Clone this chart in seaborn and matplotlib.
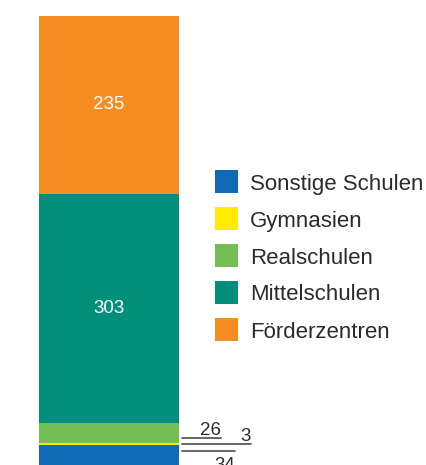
import matplotlib
matplotlib.use("Agg")
import matplotlib.pyplot as plt
from matplotlib.patches import Rectangle
from matplotlib.lines import Line2D
import seaborn as sns

categories = ["Sonstige Schulen", "Gymnasien", "Realschulen", "Mittelschulen", "Förderzentren"]
values = [34, 3, 26, 303, 235]
colors = ["#0F69B4", "#FFEC00", "#74BE55", "#008F7B", "#F68D22"]

sns.set_theme(style="white")
plt.rcParams["font.family"] = ["Liberation Sans", "DejaVu Sans"]

W, H = 427, 465
fig = plt.figure(figsize=(W / 100, H / 100), dpi=100)


def fx(px):
    return px / W


def fy(py):
    return 1 - py / H


# bar occupies x 39..179 px, value 0 at y=471 px, total at y=16 px
total = sum(values)
ax = fig.add_axes([fx(39), fy(471), 140 / W, (471 - 16) / H])

bottom = 0
for cat, v, c in zip(categories, values, colors):
    sns.barplot(x=[0], y=[v], bottom=bottom, color=c, saturation=1,
                width=0.8, linewidth=0, edgecolor="none", ax=ax)
    bottom += v

ax.set_xlim(-0.4, 0.4)
ax.set_ylim(0, total)
ax.axis("off")

# values inside the two large segments
cum = 0
for v in values:
    if v > 100:
        ax.text(0, cum + v / 2, str(v), ha="center", va="center",
                color="white", fontsize=13.5)
    cum += v

# leader lines and labels for the thin segments
lc = "#5a5a5a"
tc = "#2b2b2b"
for (x0, x1, y) in [(182, 221, 437.5), (182, 251, 444), (182, 235, 451)]:
    fig.add_artist(Line2D([fx(x0), fx(x1)], [fy(y), fy(y)], color=lc,
                          linewidth=1.3, transform=fig.transFigure))
fig.text(fx(221), fy(434.5), str(values[2]), ha="right", va="baseline",
         color=tc, fontsize=13.5)
fig.text(fx(251), fy(441), str(values[1]), ha="right", va="baseline",
         color=tc, fontsize=13.5)
fig.text(fx(235), fy(469.5), str(values[0]), ha="right", va="baseline",
         color=tc, fontsize=13.5)

# legend
for i, (cat, c) in enumerate(zip(categories, colors)):
    top = 170 + 37 * i
    fig.add_artist(Rectangle((fx(215), fy(top + 23)), 23 / W, 23 / H,
                             facecolor=c, edgecolor="none",
                             transform=fig.transFigure))
    fig.text(fx(250), fy(top + 11.5), cat, ha="left", va="center_baseline",
             color=tc, fontsize=16)

fig.savefig("out.png", dpi=100)
